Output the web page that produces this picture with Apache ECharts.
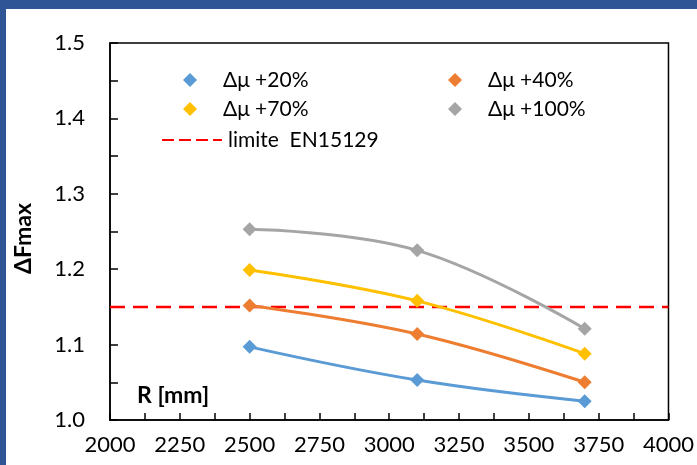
<!DOCTYPE html>
<html>
<head>
<meta charset="utf-8">
<script src="https://cdn.jsdelivr.net/npm/echarts@6/dist/echarts.min.js"></script>
<style>
html,body{margin:0;padding:0;background:#fff;}
#c{width:697px;height:465px;}
</style>
</head>
<body>
<div id="c"></div>
<script>
// Data
const radiusMM = [2500, 3100, 3700];
const seriesNames = ['Δμ +20%', 'Δμ +40%', 'Δμ +70%', 'Δμ +100%'];
const mu20 = [1.097, 1.053, 1.025];
const mu40 = [1.152, 1.114, 1.050];
const mu70 = [1.199, 1.158, 1.088];
const mu100 = [1.253, 1.225, 1.121];
const limitName = 'limite  EN15129';
const limitX = [2000, 4000];
const limitY = [1.15, 1.15];
const xTicks = [2000, 2250, 2500, 2750, 3000, 3250, 3500, 3750, 4000];
const yTicks = [1.0, 1.1, 1.2, 1.3, 1.4, 1.5];

const colors = ['#5B9BD5', '#ED7D31', '#FFC000', '#A5A5A5'];
const values = [mu20, mu40, mu70, mu100];
const FONT = 'Lato';

const chart = echarts.init(document.getElementById('c'));

const dataSeries = seriesNames.map((n, i) => ({
  name: n,
  type: 'line',
  smooth: 0.4,
  data: radiusMM.map((x, j) => [x, values[i][j]]),
  symbol: 'diamond',
  symbolSize: 14,
  itemStyle: { color: colors[i] },
  lineStyle: { color: colors[i], width: 3 },
  z: 3 + i
}));

const limitSeries = {
  name: limitName,
  type: 'line',
  data: limitX.map((x, j) => [x, limitY[j]]),
  symbol: 'none',
  showSymbol: false,
  lineStyle: { color: '#FF0000', width: 2.5, type: [15, 8] },
  itemStyle: { color: '#FF0000' },
  z: 2
};

const legendText = { fontFamily: FONT, fontSize: 21, color: '#000', lineHeight: 22 };

chart.setOption({
  animation: false,
  textStyle: { fontFamily: FONT },
  graphic: [
    { type: 'rect', shape: { x: 0, y: 0, width: 697, height: 9 }, style: { fill: '#2F5597' }, z: 100 },
    { type: 'rect', shape: { x: 0, y: 0, width: 6, height: 465 }, style: { fill: '#2F5597' }, z: 100 },
    { type: 'text', left: 137, top: 384, style: { text: 'R [mm]', font: 'bold 23px ' + FONT, fill: '#000' }, z: 100 }
  ],
  grid: {
    left: 110, top: 43, right: 28, bottom: 45,
    show: true, borderColor: '#000', borderWidth: 1.5, backgroundColor: 'transparent'
  },
  legend: [
    {
      data: [seriesNames[0], seriesNames[2]].map(n => ({ name: n, icon: 'diamond' })),
      orient: 'vertical', left: 178, top: 64, itemGap: 7,
      itemWidth: 14, itemHeight: 14,
      textStyle: Object.assign({ padding: [0, 0, 0, 21] }, legendText),
      selectedMode: false
    },
    {
      data: [seriesNames[1], seriesNames[3]].map(n => ({ name: n, icon: 'diamond' })),
      orient: 'vertical', left: 443, top: 64, itemGap: 7,
      itemWidth: 14, itemHeight: 14,
      textStyle: Object.assign({ padding: [0, 0, 0, 21] }, legendText),
      selectedMode: false
    },
    {
      data: [limitName],
      orient: 'vertical', left: 156, top: 124,
      itemWidth: 60, itemHeight: 14,
      lineStyle: { color: '#FF0000', width: 2, type: [12, 5] },
      itemStyle: { opacity: 0 },
      textStyle: Object.assign({ padding: [0, 0, 0, 1] }, legendText),
      selectedMode: false
    }
  ],
  xAxis: {
    type: 'value', min: 2000, max: 4000, interval: 250,
    axisLine: { show: true, onZero: false, lineStyle: { color: '#000', width: 1.5 } },
    axisTick: { show: true, inside: true, length: 7, lineStyle: { color: '#000', width: 1.5 } },
    minorTick: { show: true, splitNumber: 2, length: 7, lineStyle: { color: '#000', width: 1.5 } },
    splitLine: { show: false },
    axisLabel: { color: '#000', fontSize: 22, fontFamily: FONT, margin: 14,
      formatter: v => xTicks.includes(v) ? String(v) : '' }
  },
  yAxis: {
    type: 'value', min: 1.0, max: 1.5, interval: 0.1,
    name: 'ΔFmax', nameLocation: 'middle', nameGap: 75, nameRotate: 90,
    nameTextStyle: { color: '#000', fontSize: 23, fontWeight: 'bold', fontFamily: FONT, padding: [0, 14, 0, 0] },
    axisLine: { show: true, onZero: false, lineStyle: { color: '#000', width: 1.5 } },
    axisTick: { show: true, inside: true, length: 8, lineStyle: { color: '#000', width: 1.5 } },
    minorTick: { show: true, splitNumber: 2, length: 8, lineStyle: { color: '#000', width: 1.5 } },
    splitLine: { show: false },
    axisLabel: { color: '#000', fontSize: 22, fontFamily: FONT, margin: 25,
      formatter: v => { const t = yTicks.find(y => Math.abs(y - v) < 1e-6); return t === undefined ? '' : t.toFixed(1); } }
  },
  series: [limitSeries].concat(dataSeries)
});
</script>
</body>
</html>
